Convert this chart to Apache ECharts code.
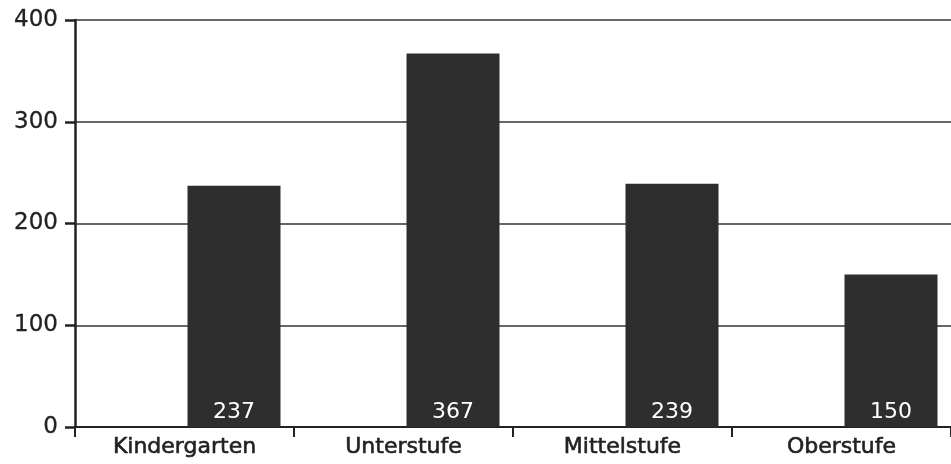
<!DOCTYPE html>
<html>
<head>
<meta charset="utf-8">
<style>
  html, body { margin: 0; padding: 0; background: #fff; }
  #chart { width: 951px; height: 464px; }
</style>
<script src="https://cdn.jsdelivr.net/npm/echarts@6/dist/echarts.min.js"></script>
</head>
<body>
<div id="chart"></div>
<script>
const categories = ['Kindergarten', 'Unterstufe', 'Mittelstufe', 'Oberstufe'];
const counts = [237, 367, 239, 150];
const yTicks = [0, 100, 200, 300, 400];

const chart = echarts.init(document.getElementById('chart'));
chart.setOption({
  animation: false,
  backgroundColor: '#fff',
  grid: { left: 75, right: 0, top: 20, bottom: 37, containLabel: false },
  xAxis: {
    type: 'category',
    data: categories,
    axisLine: { show: true, lineStyle: { color: '#222', width: 2 } },
    axisTick: { show: true, length: 10, lineStyle: { color: '#222', width: 2 } },
    axisLabel: {
      color: '#222', fontFamily: 'DejaVu Sans', fontSize: 22, margin: 9,
      textBorderColor: '#222', textBorderWidth: 0.6
    }
  },
  yAxis: {
    type: 'value',
    min: yTicks[0],
    max: yTicks[yTicks.length - 1],
    interval: 100,
    axisLine: { show: true, lineStyle: { color: '#222', width: 2.5 } },
    axisTick: { show: true, length: 10, lineStyle: { color: '#222', width: 2.5 } },
    splitLine: { show: true, lineStyle: { color: '#333', width: 1.5 } },
    axisLabel: {
      color: '#222', fontFamily: 'DejaVu Sans', fontSize: 23, margin: 17,
      textBorderColor: '#222', textBorderWidth: 0.3
    }
  },
  series: [
    {
      // empty spacer so each bar sits in the right half of its category
      type: 'bar',
      data: [],
      barWidth: 99,
      barGap: '0%'
    },
    {
      type: 'bar',
      data: counts,
      barWidth: 93,
      barGap: '0%',
      itemStyle: { color: '#2e2e2e' },
      label: {
        show: true,
        position: 'insideBottom',
        distance: 4,
        color: '#fff',
        fontFamily: 'DejaVu Sans',
        fontSize: 22
      }
    }
  ]
});
</script>
</body>
</html>
